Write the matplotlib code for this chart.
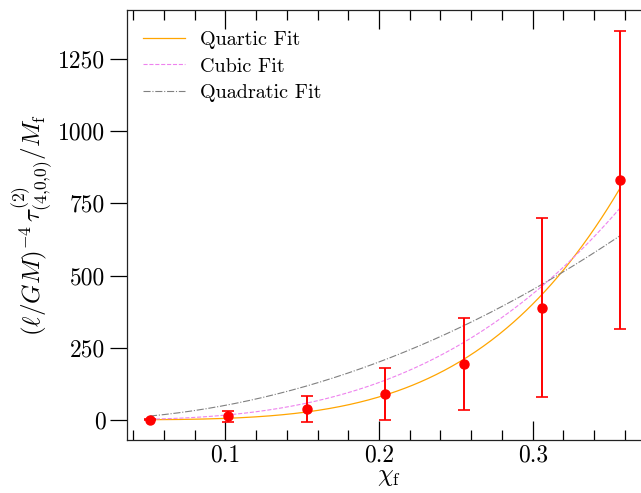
import numpy as np
import matplotlib
matplotlib.use("Agg")
import matplotlib.pyplot as plt
from matplotlib.ticker import MultipleLocator

plt.rcParams["font.family"] = "serif"
plt.rcParams["font.serif"] = ["cmr10"]
plt.rcParams["mathtext.fontset"] = "cm"
plt.rcParams["axes.unicode_minus"] = False

# data
chi_f = [0.051, 0.102, 0.153, 0.204, 0.255, 0.306, 0.357]
tau = [1, 12, 37, 88, 193, 389, 831]
tau_err = [2, 18, 44, 90, 160, 310, 515]

# power-law fit coefficients  (c * chi^n)
quartic_c = 49500
cubic_c = 16150
quad_c = 5010

xs = np.linspace(chi_f[0], chi_f[-1], 300)

fig = plt.figure(figsize=(6.41, 4.93), dpi=100)
ax = fig.add_axes([0.198, 0.1075, 0.816, 0.8722])

ax.plot(xs, quartic_c * xs**4, color="orange", lw=0.9, label="Quartic Fit")
ax.plot(xs, cubic_c * xs**3, color="violet", lw=0.8, ls="--", label="Cubic Fit")
ax.plot(xs, quad_c * xs**2, color="gray", lw=0.8, ls="-.", label="Quadratic Fit")
ax.errorbar(chi_f, tau, yerr=tau_err, fmt="o", color="red", ms=6.5,
            elinewidth=1.4, capsize=4, capthick=1.2, zorder=5)

ax.set_xlim(0.036, 0.3763)
ax.set_ylim(-70, 1420)
ax.xaxis.set_major_locator(MultipleLocator(0.1))
ax.xaxis.set_minor_locator(MultipleLocator(0.02))
ax.yaxis.set_major_locator(MultipleLocator(250))

ax.tick_params(axis="x", which="major", direction="in", length=14, width=0.9,
               top=True, labelsize=17, pad=3)
ax.tick_params(axis="x", which="minor", direction="in", length=7, width=0.9, top=True)
ax.tick_params(axis="y", which="major", direction="out", length=12, width=0.9,
               labelsize=17)
for sp in ax.spines.values():
    sp.set_linewidth(0.9)
    sp.set_edgecolor("#222222")

ax.set_xlabel(r"$\chi_{\rm f}$", fontsize=18, labelpad=0)
ax.set_ylabel(r"$(\ell/GM)^{-4}\,\tau^{(2)}_{(4{,}0{,}0)}/M_{\rm f}$", fontsize=18, labelpad=2)

ax.legend(loc="upper left", bbox_to_anchor=(0.0, 0.988), frameon=False,
          fontsize=14.5, handlelength=2.1, borderaxespad=0.4,
          labelspacing=0.4, handletextpad=0.75)

fig.savefig("out.png", dpi=100)
